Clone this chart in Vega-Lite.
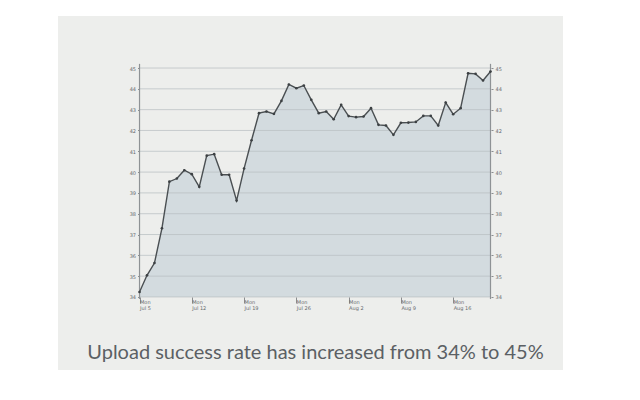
{
  "$schema": "https://vega.github.io/schema/vega-lite/v6.json",
  "width": 505,
  "height": 354,
  "autosize": "none",
  "padding": {"left": 58, "top": 16, "right": 77, "bottom": 30},
  "background": "white",
  "config": {
    "view": {"fill": "#edeeec", "stroke": null}
  },
  "title": {
    "text": "Upload success rate has increased from 34% to 45%",
    "orient": "bottom",
    "anchor": "middle",
    "frame": "group",
    "offset": -27,
    "dx": 5,
    "font": "Lato",
    "fontSize": 20,
    "fontWeight": "normal",
    "color": "#5b6064"
  },
  "datasets": {
    "rate": [
      {"date": "2010-07-05", "rate": 34.24},
      {"date": "2010-07-06", "rate": 35.04},
      {"date": "2010-07-07", "rate": 35.63},
      {"date": "2010-07-08", "rate": 37.30},
      {"date": "2010-07-09", "rate": 39.54},
      {"date": "2010-07-10", "rate": 39.69},
      {"date": "2010-07-11", "rate": 40.09},
      {"date": "2010-07-12", "rate": 39.90},
      {"date": "2010-07-13", "rate": 39.29},
      {"date": "2010-07-14", "rate": 40.79},
      {"date": "2010-07-15", "rate": 40.86},
      {"date": "2010-07-16", "rate": 39.87},
      {"date": "2010-07-17", "rate": 39.87},
      {"date": "2010-07-18", "rate": 38.63},
      {"date": "2010-07-19", "rate": 40.17},
      {"date": "2010-07-20", "rate": 41.53},
      {"date": "2010-07-21", "rate": 42.83},
      {"date": "2010-07-22", "rate": 42.91},
      {"date": "2010-07-23", "rate": 42.80},
      {"date": "2010-07-24", "rate": 43.42},
      {"date": "2010-07-25", "rate": 44.21},
      {"date": "2010-07-26", "rate": 44.03},
      {"date": "2010-07-27", "rate": 44.16},
      {"date": "2010-07-28", "rate": 43.47},
      {"date": "2010-07-29", "rate": 42.83},
      {"date": "2010-07-30", "rate": 42.91},
      {"date": "2010-07-31", "rate": 42.54},
      {"date": "2010-08-01", "rate": 43.23},
      {"date": "2010-08-02", "rate": 42.69},
      {"date": "2010-08-03", "rate": 42.64},
      {"date": "2010-08-04", "rate": 42.67},
      {"date": "2010-08-05", "rate": 43.07},
      {"date": "2010-08-06", "rate": 42.27},
      {"date": "2010-08-07", "rate": 42.24},
      {"date": "2010-08-08", "rate": 41.79},
      {"date": "2010-08-09", "rate": 42.37},
      {"date": "2010-08-10", "rate": 42.38},
      {"date": "2010-08-11", "rate": 42.41},
      {"date": "2010-08-12", "rate": 42.70},
      {"date": "2010-08-13", "rate": 42.70},
      {"date": "2010-08-14", "rate": 42.24},
      {"date": "2010-08-15", "rate": 43.34},
      {"date": "2010-08-16", "rate": 42.78},
      {"date": "2010-08-17", "rate": 43.07},
      {"date": "2010-08-18", "rate": 44.75},
      {"date": "2010-08-19", "rate": 44.72},
      {"date": "2010-08-20", "rate": 44.40},
      {"date": "2010-08-21", "rate": 44.83}
    ],
    "grid": [
      {"level": 34}, {"level": 35}, {"level": 36}, {"level": 37},
      {"level": 38}, {"level": 39}, {"level": 40}, {"level": 41},
      {"level": 42}, {"level": 43}, {"level": 44}, {"level": 45}
    ]
  },
  "resolve": {"axis": {"y": "independent"}},
  "layer": [
    {
      "data": {"name": "rate"},
      "mark": {"type": "area", "color": "#d3dbdf", "opacity": 1},
      "encoding": {
        "x": {
          "field": "date", "type": "temporal", "title": null,
          "scale": {"type": "utc", "domain": [
            {"year": 2010, "month": 6, "date": 24, "hours": 2, "utc": true},
            {"year": 2010, "month": 8, "date": 30, "hours": 17, "utc": true}
          ]},
          "axis": {
            "title": null,
            "orient": "bottom",
            "offset": -73,
            "domain": false,
            "grid": false,
            "values": [
              {"year": 2010, "month": 7, "date": 5, "utc": true},
              {"year": 2010, "month": 7, "date": 12, "utc": true},
              {"year": 2010, "month": 7, "date": 19, "utc": true},
              {"year": 2010, "month": 7, "date": 26, "utc": true},
              {"year": 2010, "month": 8, "date": 2, "utc": true},
              {"year": 2010, "month": 8, "date": 9, "utc": true},
              {"year": 2010, "month": 8, "date": 16, "utc": true}
            ],
            "labelExpr": "['Mon', utcFormat(datum.value, '%b %-d')]",
            "labelAlign": "left",
            "labelBaseline": "top",
            "labelDx": 2,
            "labelPadding": -4,
            "labelFontSize": 5,
            "labelLineHeight": 6,
            "labelColor": "#666a6c",
            "labelFont": "DejaVu Sans",
            "tickColor": "#8a8d8f",
            "tickSize": 6,
            "labelOverlap": false,
            "labelFlush": false,
            "zindex": 2
          }
        },
        "y": {
          "field": "rate", "type": "quantitative",
          "scale": {"domain": [30.49, 47.5], "nice": false, "zero": false},
          "axis": {
            "title": null,
            "orient": "left",
            "offset": -81.5,
            "domain": false,
            "grid": false,
            "values": [34, 35, 36, 37, 38, 39, 40, 41, 42, 43, 44, 45],
            "labelFontSize": 5,
            "labelColor": "#666a6c",
            "labelFont": "DejaVu Sans",
            "tickSize": 2,
            "tickColor": "#8a8d8f",
            "labelPadding": 2
          }
        },
        "y2": {"datum": 34}
      }
    },
    {
      "data": {"name": "grid"},
      "mark": {"type": "rule", "color": "#b9c0c3", "strokeWidth": 1, "opacity": 0.75},
      "encoding": {
        "x": {"datum": {"year": 2010, "month": 7, "date": 5, "utc": true}, "type": "temporal", "title": null},
        "x2": {"datum": {"year": 2010, "month": 8, "date": 21, "utc": true}},
        "y": {"field": "level", "type": "quantitative", "axis": null}
      }
    },
    {
      "data": {"values": [{"edge": "2010-07-05"}, {"edge": "2010-08-21"}]},
      "mark": {"type": "rule", "color": "#8e9295", "strokeWidth": 1.2},
      "encoding": {
        "x": {"field": "edge", "type": "temporal", "title": null},
        "y": {"datum": 33.9, "type": "quantitative", "axis": null},
        "y2": {"datum": 45.2}
      }
    },
    {
      "data": {"name": "rate"},
      "mark": {"type": "line", "color": "#4a4f52", "strokeWidth": 1.4},
      "encoding": {
        "x": {"field": "date", "type": "temporal", "title": null},
        "y": {
          "field": "rate", "type": "quantitative",
          "axis": {
            "title": null,
            "orient": "right",
            "offset": -72,
            "domain": false,
            "grid": false,
            "values": [34, 35, 36, 37, 38, 39, 40, 41, 42, 43, 44, 45],
            "labelFontSize": 5,
            "labelColor": "#666a6c",
            "labelFont": "DejaVu Sans",
            "tickSize": 2,
            "tickColor": "#8a8d8f",
            "labelPadding": 2
          }
        }
      }
    },
    {
      "data": {"name": "rate"},
      "mark": {"type": "point", "filled": true, "color": "#3c4043", "size": 7, "opacity": 1},
      "encoding": {
        "x": {"field": "date", "type": "temporal", "title": null},
        "y": {"field": "rate", "type": "quantitative", "axis": null}
      }
    }
  ]
}
